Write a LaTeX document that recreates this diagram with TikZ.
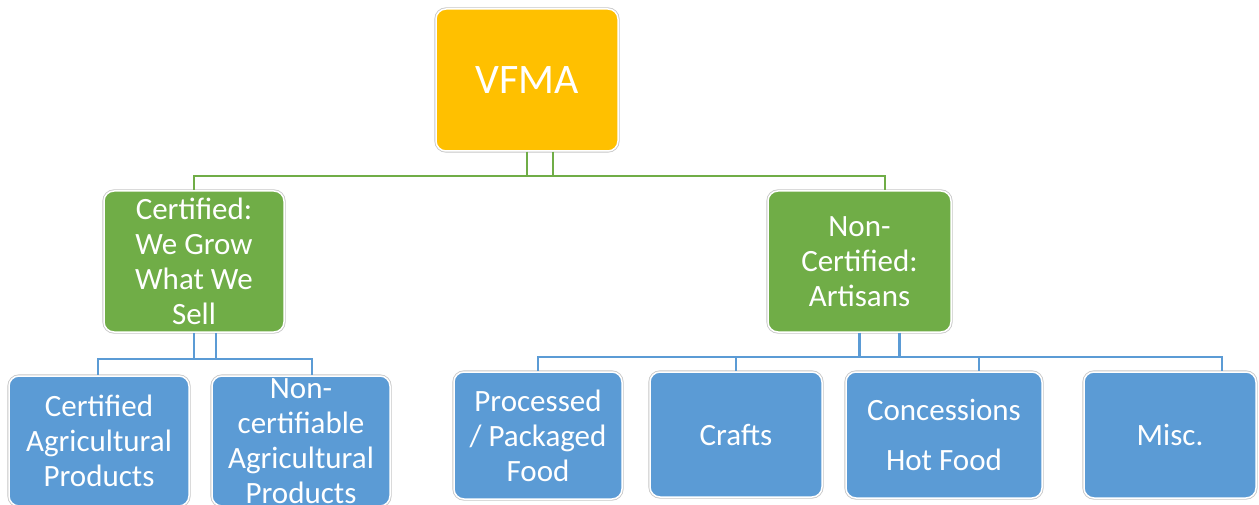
\documentclass[tikz,border=0pt]{standalone}
\usepackage{fontspec}
\setmainfont{Carlito}
\definecolor{vgold}{HTML}{FFC000}
\definecolor{vgreen}{HTML}{70AD47}
\definecolor{vblue}{HTML}{5B9BD5}
\begin{document}
\begin{tikzpicture}[x=1pt,y=-1pt,
  boxbase/.style={rectangle, rounded corners=10pt, draw=white, line width=1.5pt,
    preaction={draw=black!22, line width=3.2pt},
    text=white, align=center, inner sep=0pt, anchor=center},
  topbox/.style={boxbase, fill=vgold, font=\fontsize{42}{48}\selectfont},
  midbox/.style={boxbase, fill=vgreen, font=\fontsize{31}{35}\selectfont},
  leafbox/.style={boxbase, fill=vblue, font=\fontsize{31}{35}\selectfont},
  gline/.style={draw=vgreen, line width=2.5pt},
  bline/.style={draw=vblue, line width=2.5pt}]
\useasboundingbox (0,0) rectangle (1259,505);
\clip (0,0) rectangle (1259,505);
\fill[white] (0,0) rectangle (1259,505);

\coordinate (busA) at (0,176);
\coordinate (busB) at (0,359);
\coordinate (busC) at (0,357);

\node[topbox, minimum width=182pt, minimum height=142pt] (vfma) at (527,80) {VFMA};
\node[midbox, minimum width=180pt, minimum height=141pt] (cert) at (194,261.5) {Certified:\\We Grow\\What We\\Sell};
\node[midbox, minimum width=183pt, minimum height=141pt] (nc) at (859.5,261.5) {Non-\\Certified:\\Artisans};
\node[leafbox, minimum width=180pt, minimum height=130pt] (ag1) at (99,441) {Certified\\Agricultural\\Products};
\node[leafbox, minimum width=178pt, minimum height=130pt] (ag2) at (301,441) {Non-\\certifiable\\Agricultural\\Products};
\node[leafbox, minimum width=168pt, minimum height=127pt] (proc) at (538,435.5) {Processed\\/ Packaged\\Food};
\node[leafbox, minimum width=172pt, minimum height=125pt] (crafts) at (736,434.5) {Crafts};
\node[leafbox, minimum width=196pt, minimum height=126pt] (conc) at (944,435) {Concessions\\[15pt]Hot Food};
\node[leafbox, minimum width=172pt, minimum height=126pt] (misc) at (1170,435) {Misc.};

\draw[gline] ([xshift=26pt]vfma.south) -- ([xshift=26pt]vfma.south |- busA) -| (cert.north);
\draw[gline] (vfma.south) -- (vfma.south |- busA) -| ([xshift=25.5pt]nc.north);
\draw[bline] ([xshift=22pt]cert.south) -- ([xshift=22pt]cert.south |- busB) -| ([xshift=-1pt]ag1.north);
\draw[bline] (cert.south) -- (cert.south |- busB) -| ([xshift=11pt]ag2.north);
\draw[bline] ([xshift=40pt]nc.south) -- ([xshift=40pt]nc.south |- busC) -| (proc.north);
\draw[bline] ([xshift=40pt]nc.south) -- ([xshift=40pt]nc.south |- busC) -| (crafts.north);
\draw[bline] (nc.south) -- (nc.south |- busC) -| ([xshift=35pt]conc.north);
\draw[bline] (nc.south) -- (nc.south |- busC) -| ([xshift=52pt]misc.north);
\end{tikzpicture}
\end{document}
